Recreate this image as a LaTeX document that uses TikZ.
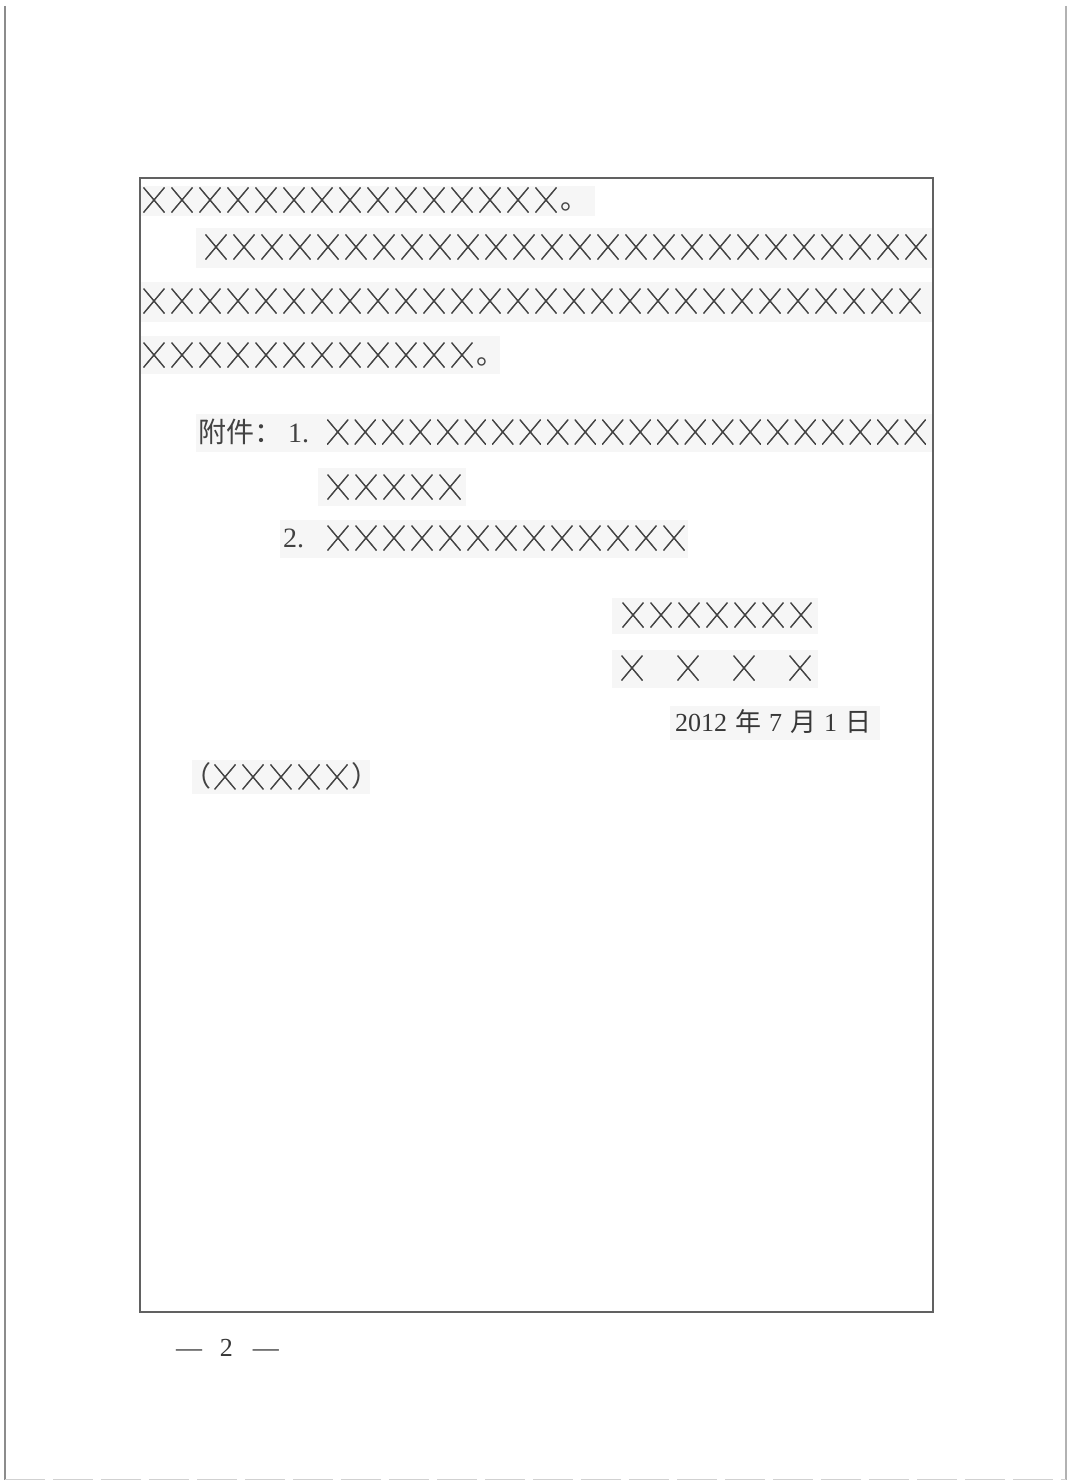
\documentclass[tikz,border=0pt]{standalone}
\usepackage{fontspec}
\usepackage{graphicx}
\setmainfont{Liberation Serif}
\newfontfamily\cjk{Noto Sans CJK SC}
\newfontfamily\cjkx[FakeBold=2]{Noto Sans CJK SC}
\newlength\xpitch \setlength\xpitch{28pt}
\newcommand\xc{\makebox[\xpitch]{\scalebox{0.84}[1]{\fontsize{25pt}{25pt}\selectfont\cjkx ╳}}}
\newcommand\xsp{\hspace*{\xpitch}}
\newcommand\xrep[1]{\foreach \i in {1,...,#1}{\xc}}
\tikzset{
  txt/.style={anchor=west, inner sep=0pt, outer sep=0pt, text=black!74,
    font=\fontsize{28pt}{28pt}\selectfont},
  datefont/.style={anchor=west, inner sep=0pt, outer sep=0pt, text=black!78,
    font=\fontsize{26pt}{26pt}\selectfont},
  shadebox/.style={fill=black!3.5, draw=none},
  pageframe/.style={draw=black!62, line width=1.3pt},
  pageedge/.style={draw=black!45, line width=1.6pt},
}
\begin{document}
\begin{tikzpicture}[x=1pt,y=-1pt]
\useasboundingbox (0,0) rectangle (1068,1482);
\fill[white] (0,0) rectangle (1068,1482);
% faint scan shading behind text lines
\fill[shadebox] (140,186) rectangle (595,216);
\fill[shadebox] (196,228) rectangle (932,268);
\fill[shadebox] (140,282) rectangle (932,322);
\fill[shadebox] (140,336) rectangle (500,374);
\fill[shadebox] (196,414) rectangle (932,452);
\fill[shadebox] (318,468) rectangle (466,506);
\fill[shadebox] (280,520) rectangle (688,558);
\fill[shadebox] (612,598) rectangle (818,634);
\fill[shadebox] (612,650) rectangle (818,688);
\fill[shadebox] (670,706) rectangle (880,740);
\fill[shadebox] (192,760) rectangle (370,794);
% page edges
\draw[pageedge] (5,6) -- (5,1480);
\draw[pageedge, draw=black!30] (1066,6) -- (1066,1480);
\draw[pageedge, draw=black!18, line width=1pt, dash pattern=on 40pt off 8pt] (5,1479) -- (1066,1479);
% text frame
\draw[pageframe] (140,178) rectangle (933,1312);
% body text
\node[txt] (r1) at (140,200) {\xrep{15}{\cjk 。}};
\node[txt] (r2) at (202,247) {\xrep{26}};
\node[txt] (r3) at (140,301) {\xrep{28}};
\node[txt] (r4) at (140,355) {\xrep{12}{\cjk 。}};
% attachments
\node[txt] (att) at (198,432) {{\cjk 附件：}\hspace{6pt}1.};
\node[txt] (a1) at (324,432) {\setlength\xpitch{27.5pt}\xrep{22}};
\node[txt] (a1b) at (324,487) {\xrep{5}};
\node[txt] (a2n) at (283,538) {2.};
\node[txt] (a2) at (324,538) {\xrep{13}};
% signature
\node[txt] (sig1) at (619,615) {\xrep{7}};
\node[txt] (sig2) at (618,668) {\xc\xsp\xc\xsp\xc\xsp\xc};
\node[datefont] (date) at (675,722) {2012\hspace{8pt}{\cjk 年}\hspace{8pt}7\hspace{8pt}{\cjk 月}\hspace{8pt}1\hspace{8pt}{\cjk 日}};
\node[txt] (paren) at (183,776) {{\cjk （}\xrep{5}{\cjk ）}};
% page number
\node[datefont] (pg) at (176,1348) {—\hspace{18pt}2\hspace{20pt}—};
\end{tikzpicture}
\end{document}
